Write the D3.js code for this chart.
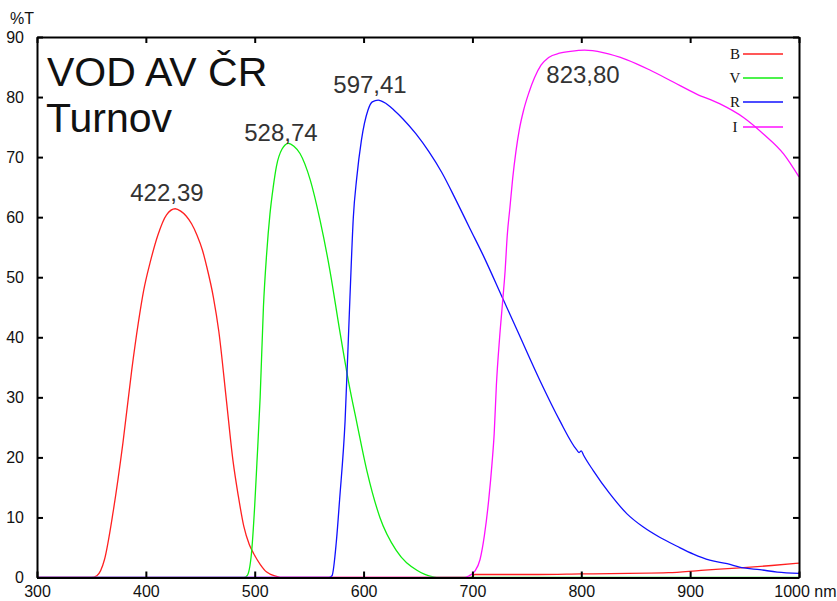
<!DOCTYPE html>
<html>
<head>
<meta charset="utf-8">
<script src="https://cdn.jsdelivr.net/npm/d3@7"></script>
<style>
  html, body { margin: 0; padding: 0; background: #fff; }
  svg { display: block; font-family: "Liberation Sans", Arial, sans-serif; }
</style>
</head>
<body>
<svg id="chart" width="837" height="601"></svg>
<script>
// Filter transmission curves (%T vs wavelength in nm)
const bWave = [300, 350, 355, 362, 370, 379, 387, 393, 398, 404, 411, 419, 427, 432, 437, 442, 447, 452, 456, 462, 467, 474, 480, 485, 490, 495, 499, 505, 511, 520, 525, 699, 702, 760, 800, 880, 910, 946, 975, 1000];
const bVal  = [0, 0, 0.3, 3, 11, 22.5, 34.5, 42.3, 47.8, 52.5, 57.0, 60.4, 61.4, 61.0, 60.2, 58.9, 57.0, 54.5, 51.7, 46.7, 41, 29.5, 19.5, 13.5, 8.5, 5.5, 4, 2.2, 0.9, 0.2, 0, 0, 0.5, 0.5, 0.6, 0.8, 1.2, 1.6, 2.0, 2.4];

const vWave = [300, 490, 493, 497, 500, 502, 505, 508, 511, 514, 517, 520, 525, 531, 536, 541.6, 551, 560, 569, 578, 586, 594, 603, 615, 630, 649, 664, 670, 1000];
const vVal  = [0, 0, 0.3, 4, 12, 19, 30, 45, 54, 60.5, 65, 68.5, 71.3, 72.3, 71.8, 70.6, 66.2, 59.5, 51.2, 41.2, 32.8, 25.6, 17.8, 10, 4.5, 1.2, 0.1, 0, 0];

const rWave = [300, 568, 571, 575, 578, 583, 587.5, 590.6, 593.7, 598, 604, 608, 613.5, 620, 628, 636, 648, 660, 672, 685, 698, 710, 728, 741, 762, 780, 796, 798, 800, 802, 811, 826, 842, 857, 872, 888, 903, 918, 934, 949, 964, 980, 1000];
const rVal  = [0, 0, 0.3, 6, 13, 26, 46.7, 60, 66.5, 72.8, 77.8, 79.2, 79.5, 79.0, 77.8, 76.4, 73.9, 70.9, 67.4, 62.8, 58.0, 53.6, 46.4, 41.2, 32.8, 26.2, 21.2, 20.8, 21.1, 20.4, 17.8, 14, 10.6, 8.4, 6.7, 5.2, 3.9, 2.9, 2.3, 1.6, 1.3, 0.9, 0.7];

const iWave = [300, 693, 697, 702, 707, 711, 715, 718, 720, 722, 725, 728, 730, 732, 734.5, 737, 740, 743, 747, 752, 757, 763, 770, 780, 790, 803, 820, 842, 863, 884.5, 906, 927, 949, 967, 986, 1000];
const iVal  = [0, 0, 0.3, 1, 3, 7, 13, 19, 24, 32, 40, 46.5, 51, 57, 61.7, 66.5, 71, 74.5, 77.8, 80.8, 83.2, 85.3, 86.6, 87.3, 87.6, 87.8, 87.4, 86.2, 84.5, 82.5, 80.5, 78.9, 76.6, 73.9, 70.5, 66.7];

const seriesNames  = ["B", "V", "R", "I"];
const seriesColors = ["#ff2020", "#10ee10", "#1010ff", "#ff10ff"];

// Effective wavelengths written above each curve, with their anchor positions
const peakText  = ["422,39", "528,74", "597,41", "823,80"];
const peakTextX = [419.4, 524.1, 605.9, 801.6];
const peakTextY = [62.7, 72.7, 80.7, 82.3];

const xTicks = [300, 400, 500, 600, 700, 800, 900, 1000];
const yTicks = [0, 10, 20, 30, 40, 50, 60, 70, 80, 90];

const svg = d3.select("#chart");
const plotLeft = 37, plotRight = 799, plotTop = 37, plotBottom = 577.5;

const x = d3.scaleLinear().domain([300, 1000]).range([plotLeft, plotRight]);
const y = d3.scaleLinear().domain([0, 90]).range([plotBottom, plotTop]);

const waves = [bWave, vWave, rWave, iWave];
const vals  = [bVal, vVal, rVal, iVal];

const line = d3.line()
  .x(d => x(d[0]))
  .y(d => y(d[1]))
  .curve(d3.curveMonotoneX);

// Curves
const curves = svg.append("g");
seriesNames.forEach((name, i) => {
  const pts = waves[i].map((w, k) => [w, vals[i][k]]);
  curves.append("path")
    .datum(pts)
    .attr("fill", "none")
    .attr("stroke", seriesColors[i])
    .attr("stroke-width", 1.3)
    .attr("d", line);
});

// Frame axes with inward ticks on all four sides
const tickLen = 6;
const axB = d3.axisBottom(x).tickValues(xTicks).tickSizeInner(-tickLen).tickSizeOuter(0)
  .tickPadding(8).tickFormat(d => d === 1000 ? "1000 nm" : String(d));
const axT = d3.axisTop(x).tickValues(xTicks).tickSizeInner(-tickLen).tickSizeOuter(0).tickFormat("");
const axL = d3.axisLeft(y).tickValues(yTicks).tickSizeInner(-tickLen).tickSizeOuter(0)
  .tickPadding(13).tickFormat(d3.format("d"));
const axR = d3.axisRight(y).tickValues(yTicks).tickSizeInner(-tickLen).tickSizeOuter(0).tickFormat("");

function styleAxis(g) {
  g.select(".domain").attr("stroke", "#000").attr("stroke-width", 2);
  g.selectAll(".tick line").attr("stroke", "#000").attr("stroke-width", 2);
  g.selectAll(".tick text").attr("fill", "#111").attr("font-size", 16)
    .attr("font-family", "'Liberation Sans', Arial, sans-serif");
}

const xAxisG = svg.append("g").attr("transform", `translate(0,${plotBottom})`).call(axB).call(styleAxis);
// last label carries the unit and ends at the right edge
xAxisG.selectAll(".tick text").filter(d => d === 1000)
  .attr("text-anchor", "end").attr("dx", 37);
svg.append("g").attr("transform", `translate(0,${plotTop})`).call(axT).call(styleAxis);
svg.append("g").attr("transform", `translate(${plotLeft},0)`).call(axL).call(styleAxis);
svg.append("g").attr("transform", `translate(${plotRight},0)`).call(axR).call(styleAxis);

// Axis unit
svg.append("text").attr("x", 10).attr("y", 24).attr("font-size", 16).attr("fill", "#111").text("%T");

// Title block
svg.append("text").attr("x", 47).attr("y", 86).attr("font-size", 41).attr("fill", "#111").text("VOD AV ČR");
svg.append("text").attr("x", 46).attr("y", 132).attr("font-size", 41).attr("fill", "#111").text("Turnov");

// Wavelength labels
svg.append("g").selectAll("text")
  .data(peakText)
  .join("text")
  .attr("x", (d, i) => x(peakTextX[i]))
  .attr("y", (d, i) => y(peakTextY[i]))
  .attr("text-anchor", "middle")
  .attr("font-size", 24)
  .attr("fill", "#333")
  .text(d => d);

// Legend
const legY = [54, 78, 102, 127];
const leg = svg.append("g");
seriesNames.forEach((name, i) => {
  leg.append("text")
    .attr("x", 735).attr("y", legY[i] + 5)
    .attr("text-anchor", "middle")
    .attr("font-family", "'Liberation Serif', 'DejaVu Serif', serif")
    .attr("font-size", 15)
    .attr("fill", "#111")
    .text(name);
  leg.append("line")
    .attr("x1", 743).attr("x2", 783)
    .attr("y1", legY[i]).attr("y2", legY[i])
    .attr("stroke", seriesColors[i])
    .attr("stroke-width", 1.3);
});
</script>
</body>
</html>
